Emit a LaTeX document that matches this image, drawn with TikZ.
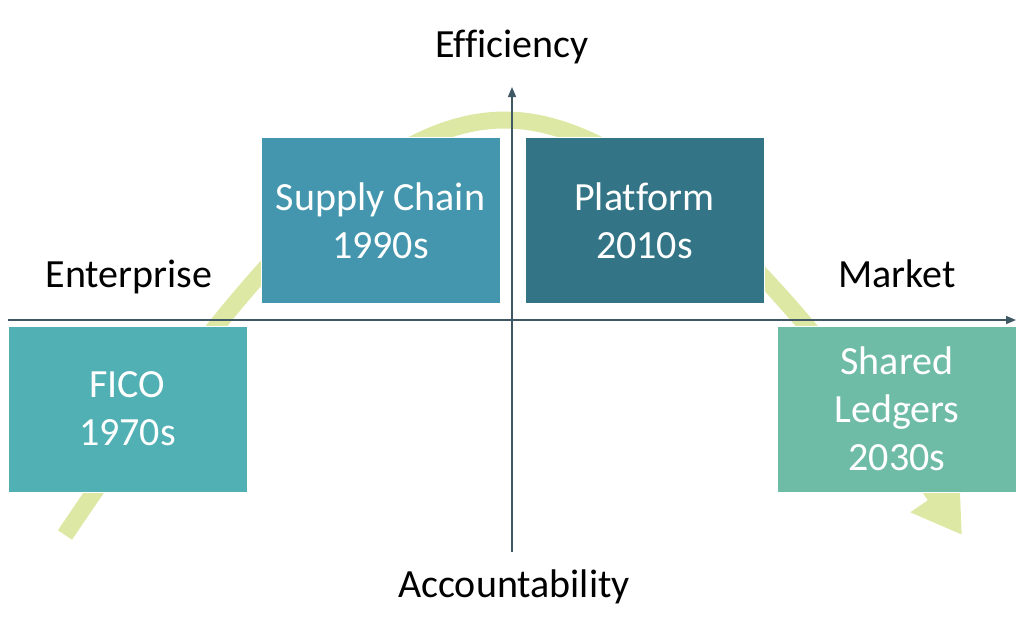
\documentclass[tikz,border=0pt]{standalone}
\usepackage{fontspec}
\setmainfont{Carlito}[Ligatures=NoCommon]
\usepackage{xcolor}
\usetikzlibrary{arrows.meta}

\definecolor{ficoC}{HTML}{50B0B4}
\definecolor{supplyC}{HTML}{4396AD}
\definecolor{platformC}{HTML}{337486}
\definecolor{ledgerC}{HTML}{6FBCA6}
\definecolor{curveC}{HTML}{DDE8A5}
\definecolor{axisC}{HTML}{3F5864}

\begin{document}
\begin{tikzpicture}[x=1pt,y=-1pt]

\tikzset{era box/.style={
    draw=white, line width=0.6pt, fill=#1,
    minimum width=239pt, minimum height=166pt, inner sep=0pt,
    text=white, align=center, font=\fontsize{40}{48}\selectfont
  },
  axis label/.style={font=\fontsize{40}{48}\selectfont, inner sep=0pt},
  axis line/.style={draw=axisC, line width=1.4pt,
    -{Triangle[length=10pt,width=8pt]}}
}
\useasboundingbox (0,0) rectangle (1024,633);

% trend arrow behind everything
\coordinate (tail) at (65,535);
\coordinate (top) at (505,120);
\coordinate (tip) at (962,535);
\draw[curveC, line width=17pt, -{Triangle[length=48pt,width=56pt]}]
  (tail) .. controls (250,260) and (380,120) .. (top)
  .. controls (630,120) and (780,270) .. (tip);

% axes
\coordinate (xl) at (8,320);
\coordinate (xr) at (1016,320);
\coordinate (yb) at (512,552);
\coordinate (yt) at (512,87);
\draw[axis line] (xl) -- (xr);
\draw[axis line] (yb) -- (yt);

% eras
\node[era box=ficoC] (fico) at (127.5,409) {FICO\\1970s};
\node[era box=supplyC] (supply) at (380.5,220.5) {Supply Chain\\1990s};
\node[era box=platformC] (platform) at (644.5,220.5) {Platform\\2010s};
\node[era box=ledgerC] (ledgers) at (897,409) {Shared\\Ledgers\\2030s};

% axis labels
\node[axis label, anchor=base] (effic) at (512,57) {Efficiency};
\node[axis label, anchor=base] (account) at (514,597) {Accountability};
\node[axis label, anchor=base] (enterprise) at (129,287) {Enterprise};
\node[axis label, anchor=base] (market) at (897,287) {Market};

\end{tikzpicture}
\end{document}
